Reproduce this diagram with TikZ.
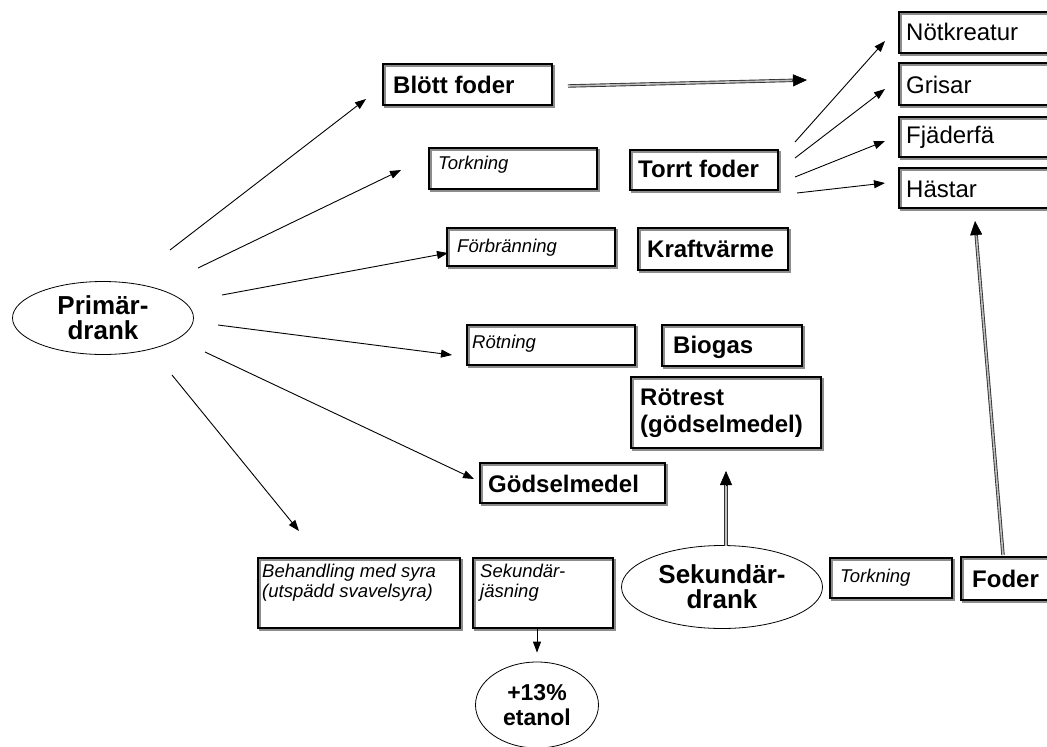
\documentclass[tikz,border=0pt]{standalone}
\usepackage{fontspec}
\setmainfont{Liberation Sans}
\usetikzlibrary{arrows.meta,shapes.geometric,shadows,fit,calc}

\begin{document}
\begin{tikzpicture}[x=1pt,y=-1pt,
  box/.style={rectangle, draw=black, line width=1.6pt, inner sep=0pt,
    general shadow={draw=black!45, fill=none, line width=1.6pt,
      shadow xshift=2pt, shadow yshift=-2pt}},
  bt/.style={anchor=base west, inner sep=0pt, font=\fontsize{24}{27}\selectfont\bfseries},
  it/.style={anchor=base west, inner sep=0pt, font=\fontsize{18.5}{20}\selectfont\itshape},
  rt/.style={anchor=base west, inner sep=0pt, font=\fontsize{24}{28}\selectfont},
  oval/.style={ellipse, draw=black, line width=0.8pt, inner sep=0pt, align=center,
    font=\fontsize{26}{25}\selectfont\bfseries},
  arr/.style={draw=black, line width=0.9pt, -{Triangle[length=11pt,width=8pt]}},
  dline/.style={draw=black!80, line width=0.9pt, double=black!25, double distance=1.6pt,
    shorten >=10pt},
  dtip/.style={draw=black, fill=black, line width=0.5pt, -{Triangle[length=14pt,width=12pt]}}]

\clip (0,0) rectangle (1047,747);

% product and process boxes
\node[box, fit={(383,64) (552,105)}] (blott) {};
\node[bt] (blott-t) at (393,93) {Blött foder};
\node[box, fit={(429,148) (597,189)}] (tork1) {};
\node[it] (tork1-t) at (438,169) {Torkning};
\node[box, fit={(630,150) (778,190)}] (torrt) {};
\node[bt] (torrt-t) at (638,177) {Torrt foder};
\node[box, fit={(447,228) (615,266)}] (forbr) {};
\node[it] (forbr-t) at (457,252) {Förbränning};
\node[box, fit={(638,228) (788,270)}] (kraft) {};
\node[bt] (kraft-t) at (647,257) {Kraftvärme};
\node[box, fit={(467,325) (635,365)}] (rotn) {};
\node[it] (rotn-t) at (472,348) {Rötning};
\node[box, fit={(662,325) (802,366)}] (biogas) {};
\node[bt] (biogas-t) at (673,353) {Biogas};
\node[box, fit={(631,377) (821,448)}] (rotrest) {};
\node[bt] (rotrest-t1) at (640,405) {Rötrest};
\node[bt] (rotrest-t2) at (640,432) {(gödselmedel)};
\node[box, fit={(480,463) (665,503)}] (godsel) {};
\node[bt] (godsel-t) at (488,492) {Gödselmedel};

% animals
\node[box, fit={(899,12) (1060,53)}] (notk) {};
\node[rt] (notk-t) at (906,40) {Nötkreatur};
\node[box, fit={(899,63) (1060,105)}] (gris) {};
\node[rt] (gris-t) at (906,93) {Grisar};
\node[box, fit={(899,117) (1060,157)}] (fjad) {};
\node[rt] (fjad-t) at (906,143) {Fjäderfä};
\node[box, fit={(899,168) (1060,208)}] (hast) {};
\node[rt] (hast-t) at (906,197) {Hästar};

% lower row
\node[box, fit={(258,558) (460,628)}] (behand) {};
\node[it] (behand-t1) at (262,577) {Behandling med syra};
\node[it] (behand-t2) at (262,597) {(utspädd svavelsyra)};
\node[box, fit={(473,558) (613,628)}] (sekj) {};
\node[it] (sekj-t1) at (480,577) {Sekundär-};
\node[it] (sekj-t2) at (480,597) {jäsning};
\node[box, fit={(830,558) (952,598)}] (tork2) {};
\node[it] (tork2-t) at (840,582) {Torkning};
\node[box, fit={(961,557) (1060,600)}] (foder) {};
\node[bt] (foder-t) at (972,587) {Foder};

% drank ellipses
\node[oval, minimum width=181pt, minimum height=73pt] (prim) at (103,318) {Primär-\\drank};
\node[oval, minimum width=201pt, minimum height=83pt] (sekd) at (722,587) {Sekundär-\\drank};
\node[oval, minimum width=123pt, minimum height=86pt,
  font=\fontsize{23}{25}\selectfont\bfseries] (etanol) at (537,705) {+13\%\\etanol};

% arrow end points
\coordinate (p1s) at (170,250); \coordinate (p1e) at (366,99);
\coordinate (p2s) at (198,268); \coordinate (p2e) at (401,170);
\coordinate (p3s) at (222,295); \coordinate (p3e) at (448,253);
\coordinate (p4s) at (218,325); \coordinate (p4e) at (452,355);
\coordinate (p5s) at (205,352); \coordinate (p5e) at (474,479);
\coordinate (p6s) at (172,375); \coordinate (p6e) at (299,531);
\coordinate (t1s) at (795,142); \coordinate (t1e) at (885,41);
\coordinate (t2s) at (795,158); \coordinate (t2e) at (885,89);
\coordinate (t3s) at (795,177); \coordinate (t3e) at (885,141);
\coordinate (t4s) at (797,193); \coordinate (t4e) at (885,183);
\coordinate (bs) at (568,86);   \coordinate (be) at (807,80);
\coordinate (ss) at (726,546);  \coordinate (se) at (726,471);
\coordinate (fs) at (1003,555); \coordinate (fe) at (975,221);

% primary stillage routes
\draw[arr] (p1s) -- (p1e);
\draw[arr] (p2s) -- (p2e);
\draw[arr] (p3s) -- (p3e);
\draw[arr] (p4s) -- (p4e);
\draw[arr] (p5s) -- (p5e);
\draw[arr] (p6s) -- (p6e);

% dry feed to animals
\draw[arr] (t1s) -- (t1e);
\draw[arr] (t2s) -- (t2e);
\draw[arr] (t3s) -- (t3e);
\draw[arr] (t4s) -- (t4e);

% secondary fermentation to ethanol
\draw[arr] (sekj.south -| etanol.north) -- ([yshift=9pt]etanol.north);

% double arrows with solid heads
\draw[dline] (bs) -- (be);
\draw[dtip] ($(be)!15pt!(bs)$) -- (be);
\draw[dline] (ss) -- (se);
\draw[dtip] ($(se)!15pt!(ss)$) -- (se);
\draw[dline] (fs) -- (fe);
\draw[dtip] ($(fe)!15pt!(fs)$) -- (fe);
\end{tikzpicture}
\end{document}
